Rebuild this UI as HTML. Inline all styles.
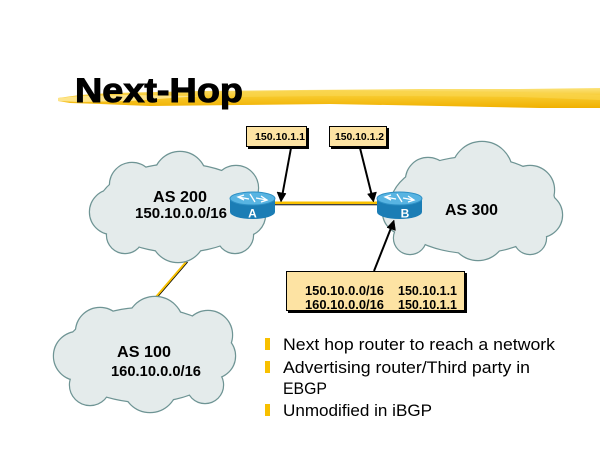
<!DOCTYPE html>
<html><head><meta charset="utf-8"><style>
html,body{margin:0;padding:0;background:#fff;}
svg{display:block;}
</style></head><body>
<svg width="600" height="450" viewBox="0 0 600 450" xmlns="http://www.w3.org/2000/svg">
<defs>
<linearGradient id="brush" x1="0" y1="0" x2="0" y2="1">
<stop offset="0" stop-color="#fbe27a"/>
<stop offset="0.45" stop-color="#f7c82a"/>
<stop offset="1" stop-color="#f0b000"/>
</linearGradient>
</defs>
<rect width="600" height="450" fill="#fff"/>

<!-- title brush -->
<polygon points="58,98 80,95 110,93 200,91 300,90 420,89 520,89 600,88 600,108 540,108 440,106 330,104 240,105 150,106 100,104 70,103 58,101" fill="url(#brush)"/>
<polygon points="58,98 80,96 130,95 200,96 130,101 80,102 58,101" fill="#fde48a"/>
<polygon points="240,92 330,90 420,91 520,92 600,95 600,100 520,97 420,96 320,96 240,97" fill="#f9d44a" opacity="0.7"/>
<text x="75" y="102" font-family="Liberation Sans, sans-serif" font-weight="bold" font-size="34" textLength="168" lengthAdjust="spacingAndGlyphs" fill="#000" stroke="#000" stroke-width="1">Next-Hop</text>

<!-- links -->
<line x1="187.5" y1="262" x2="156.5" y2="298" stroke="#000" stroke-width="1.2"/>
<line x1="186" y1="262" x2="155" y2="298" stroke="#f8c000" stroke-width="2"/>

<!-- cloud AS200 -->
<g stroke="#6e9494" stroke-width="2.4" fill="#6e9494">
<circle cx="180" cy="178" r="26"/><circle cx="132" cy="185" r="22"/><circle cx="236" cy="188" r="22"/>
<circle cx="112" cy="212" r="22"/><circle cx="244" cy="215" r="21"/><circle cx="125" cy="235" r="18"/>
<circle cx="178" cy="235" r="27"/><circle cx="235" cy="235" r="18"/><ellipse cx="178" cy="208" rx="80" ry="44"/>
</g>
<g fill="#e4ebeb">
<circle cx="180" cy="178" r="26"/><circle cx="132" cy="185" r="22"/><circle cx="236" cy="188" r="22"/>
<circle cx="112" cy="212" r="22"/><circle cx="244" cy="215" r="21"/><circle cx="125" cy="235" r="18"/>
<circle cx="178" cy="235" r="27"/><circle cx="235" cy="235" r="18"/><ellipse cx="178" cy="208" rx="80" ry="44"/>
</g>

<!-- cloud AS300 -->
<g stroke="#6e9494" stroke-width="2.4" fill="#6e9494">
<circle cx="482" cy="172" r="30"/><circle cx="428" cy="180" r="22"/><circle cx="530" cy="190" r="24"/>
<circle cx="540" cy="215" r="22"/><circle cx="405" cy="212" r="22"/><circle cx="410" cy="238" r="16"/>
<circle cx="478" cy="232" r="28"/><circle cx="530" cy="238" r="16"/><ellipse cx="473" cy="205" rx="82" ry="48"/>
</g>
<g fill="#e4ebeb">
<circle cx="482" cy="172" r="30"/><circle cx="428" cy="180" r="22"/><circle cx="530" cy="190" r="24"/>
<circle cx="540" cy="215" r="22"/><circle cx="405" cy="212" r="22"/><circle cx="410" cy="238" r="16"/>
<circle cx="478" cy="232" r="28"/><circle cx="530" cy="238" r="16"/><ellipse cx="473" cy="205" rx="82" ry="48"/>
</g>

<!-- cloud AS100 -->
<g stroke="#6e9494" stroke-width="2.4" fill="#6e9494">
<circle cx="155" cy="325" r="28"/><circle cx="100" cy="332" r="24"/><circle cx="208" cy="335" r="24"/>
<circle cx="78" cy="356" r="24"/><circle cx="213" cy="356" r="22"/><circle cx="90" cy="385" r="20"/>
<circle cx="150" cy="385" r="27"/><circle cx="205" cy="385" r="18"/><ellipse cx="145" cy="355" rx="82" ry="47"/>
</g>
<g fill="#e4ebeb">
<circle cx="155" cy="325" r="28"/><circle cx="100" cy="332" r="24"/><circle cx="208" cy="335" r="24"/>
<circle cx="78" cy="356" r="24"/><circle cx="213" cy="356" r="22"/><circle cx="90" cy="385" r="20"/>
<circle cx="150" cy="385" r="27"/><circle cx="205" cy="385" r="18"/><ellipse cx="145" cy="355" rx="82" ry="47"/>
</g>

<!-- cloud labels -->
<g font-family="Liberation Sans, sans-serif" font-weight="bold" fill="#000">
<text x="153" y="202" font-size="15.5" textLength="54" lengthAdjust="spacingAndGlyphs">AS 200</text>
<text x="135" y="218" font-size="15" textLength="92" lengthAdjust="spacingAndGlyphs">150.10.0.0/16</text>
<text x="445" y="215" font-size="15.5" textLength="53" lengthAdjust="spacingAndGlyphs">AS 300</text>
<text x="117" y="357" font-size="15.5" textLength="54" lengthAdjust="spacingAndGlyphs">AS 100</text>
<text x="111" y="376" font-size="15" textLength="90" lengthAdjust="spacingAndGlyphs">160.10.0.0/16</text>
</g>

<!-- A-B link -->
<line x1="274" y1="204.8" x2="379" y2="204.8" stroke="#000" stroke-width="1"/>
<line x1="274" y1="202.8" x2="379" y2="202.8" stroke="#f8c000" stroke-width="2.5"/>

<!-- Router A -->
<g>
<path d="M230,198.5 L230,212 A22.5,7 0 0 0 275,212 L275,198.5 Z" fill="#1b7db5"/>
<ellipse cx="252.5" cy="198.5" rx="22.5" ry="6.5" fill="#58b4e2" stroke="#2d8fc4" stroke-width="1"/>
<path d="M238,197 L249,199 M244,195 L238,197 L244,200 M267,200 L256,198 M261,202 L267,200 L261,196 M250,194 L255,202" stroke="#fff" stroke-width="1.3" fill="none"/>
<text x="252.5" y="217.5" font-family="Liberation Sans, sans-serif" font-weight="bold" font-size="12" fill="#fff" text-anchor="middle">A</text>
</g>
<!-- Router B -->
<g>
<path d="M377,198.5 L377,212 A22.5,7 0 0 0 422,212 L422,198.5 Z" fill="#1b7db5"/>
<ellipse cx="399.5" cy="198.5" rx="22.5" ry="6.5" fill="#58b4e2" stroke="#2d8fc4" stroke-width="1"/>
<path d="M385,197 L396,199 M391,195 L385,197 L391,200 M414,200 L403,198 M408,202 L414,200 L408,196 M397,194 L402,202" stroke="#fff" stroke-width="1.3" fill="none"/>
<text x="405" y="217.5" font-family="Liberation Sans, sans-serif" font-weight="bold" font-size="12" fill="#fff" text-anchor="middle">B</text>
</g>

<!-- label boxes -->
<rect x="248" y="128" width="61" height="21" fill="#000"/>
<rect x="246.5" y="126.5" width="60" height="20" fill="#fde3a3" stroke="#000" stroke-width="1"/>
<text x="255" y="140" font-family="Liberation Sans, sans-serif" font-weight="bold" font-size="10.5" textLength="50" lengthAdjust="spacingAndGlyphs">150.10.1.1</text>

<rect x="331" y="128" width="58" height="21" fill="#000"/>
<rect x="329.5" y="126.5" width="57" height="20" fill="#fde3a3" stroke="#000" stroke-width="1"/>
<text x="335" y="140" font-family="Liberation Sans, sans-serif" font-weight="bold" font-size="10.5" textLength="49" lengthAdjust="spacingAndGlyphs">150.10.1.2</text>

<rect x="288" y="273" width="179" height="40" fill="#000"/>
<rect x="286.5" y="271.5" width="178" height="39" fill="#fde3a3" stroke="#000" stroke-width="1"/>
<g font-family="Liberation Sans, sans-serif" font-weight="bold" font-size="12.5" fill="#000">
<text x="305" y="295" textLength="79" lengthAdjust="spacingAndGlyphs">150.10.0.0/16</text>
<text x="398" y="295" textLength="59" lengthAdjust="spacingAndGlyphs">150.10.1.1</text>
<text x="305" y="309" textLength="79" lengthAdjust="spacingAndGlyphs">160.10.0.0/16</text>
<text x="398" y="309" textLength="59" lengthAdjust="spacingAndGlyphs">150.10.1.1</text>
</g>

<!-- arrows -->
<g stroke="#000" stroke-width="2" fill="#000">
<line x1="291" y1="148" x2="282.5" y2="194"/>
<polygon points="281,202 277,192 286,193.5" stroke-width="0.5"/>
<line x1="360" y1="148" x2="371.5" y2="194"/>
<polygon points="373.5,202 367.5,194 376.5,192" stroke-width="0.5"/>
<line x1="374" y1="271" x2="391" y2="228"/>
<polygon points="394,220 387,227.5 395.5,230.5" stroke-width="0.5"/>
</g>

<!-- bullets -->
<g fill="#f8c000">
<rect x="265" y="338" width="5" height="12"/>
<rect x="265" y="361" width="5" height="12"/>
<rect x="265" y="404" width="5" height="12"/>
</g>
<g font-family="Liberation Sans, sans-serif" font-size="17" fill="#000">
<text x="283" y="350" textLength="272" lengthAdjust="spacingAndGlyphs">Next hop router to reach a network</text>
<text x="283" y="373" textLength="247" lengthAdjust="spacingAndGlyphs">Advertising router/Third party in</text>
<text x="283" y="394" font-size="17" textLength="44" lengthAdjust="spacingAndGlyphs">EBGP</text>
<text x="283" y="416" textLength="149" lengthAdjust="spacingAndGlyphs">Unmodified in iBGP</text>
</g>
</svg>
</body></html>
